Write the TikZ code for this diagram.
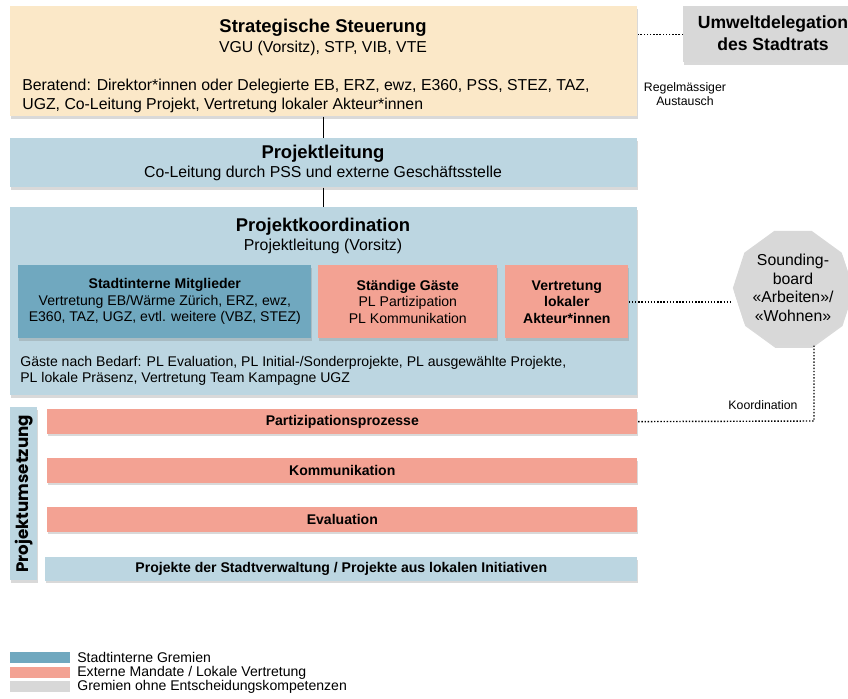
\documentclass[tikz,border=0pt]{standalone}
\usepackage{fontspec}
\setmainfont{Liberation Sans}
\newfontfamily\pufont{Poppins}
\usetikzlibrary{positioning,shapes.geometric,shadows}
\definecolor{cCream}{HTML}{FBE8C8}
\definecolor{cLblue}{HTML}{BCD6E1}
\definecolor{cTeal}{HTML}{70A8BF}
\definecolor{cSalm}{HTML}{F3A293}
\definecolor{cGrey}{HTML}{D8D8D8}

\begin{document}
\begin{tikzpicture}[x=0.02cm,y=-0.02cm,
  box/.style={rectangle,fill=#1,anchor=north west,inner sep=0pt,align=center,
    drop shadow={shadow xshift=0.5pt,shadow yshift=-1.5pt,opacity=0.3}},
  ttl/.style={font=\fontsize{10.5}{12.5}\selectfont\bfseries,inner sep=0pt},
  txt/.style={font=\fontsize{9}{10.8}\selectfont,inner sep=0pt,align=center},
  sml/.style={font=\fontsize{8}{9.4}\selectfont},
  lbl/.style={font=\fontsize{7}{8.4}\selectfont,inner sep=0pt,align=center},
  link/.style={line width=0.8pt},
  dots/.style={densely dotted,line width=0.8pt},
  swatch/.style={fill=#1,anchor=north west,minimum width=1.2cm,minimum height=0.22cm,inner sep=0pt}]
\useasboundingbox (0,0) rectangle (848,699);
% ---------- strategische Steuerung ----------
\node[box=cCream,minimum width=12.54cm,minimum height=2.2cm] (strat) at (10,6) {};
\node[ttl] (stratT) at (323,28) {Strategische Steuerung};
\node[txt] (stratS) at (323,48) {VGU (Vorsitz), STP, VIB, VTE};
\node[txt,anchor=west,align=left] (stratB) at (22,96) {Beratend: Direktor*innen oder Delegierte EB, ERZ, ewz, E360, PSS, STEZ, TAZ,\\UGZ, Co-Leitung Projekt, Vertretung lokaler Akteur*innen};
\node[box=cGrey,minimum width=3.6cm,minimum height=1.12cm] (umw) at (683,6) {};
\node[inner sep=0pt,align=center,font=\fontsize{10}{12.5}\selectfont\bfseries] (umwT) at (773,33) {Umweltdelegation\\des Stadtrats};
\draw[dots] (umw.west) -- (umw.west -| strat.east);
\node[lbl] (aust) at (685,94) {Regelmässiger\\Austausch};
% ---------- Projektleitung ----------
\node[box=cLblue,minimum width=12.54cm,minimum height=0.98cm] (pl) at (10,138) {};
\node[ttl] (plT) at (323,154) {Projektleitung};
\node[txt] (plS) at (323,173) {Co-Leitung durch PSS und externe Geschäftsstelle};
\draw[link] (strat.south) -- (pl.north);
% ---------- Projektkoordination ----------
\node[box=cLblue,minimum width=12.54cm,minimum height=3.76cm] (pk) at (10,207) {};
\node[ttl] (pkT) at (323,227) {Projektkoordination};
\node[txt] (pkS) at (323,246) {Projektleitung (Vorsitz)};
\draw[link] (pl.south) -- (pk.north);
\node[box=cTeal,sml,minimum width=5.86cm,minimum height=1.46cm] (sim) at (18,265)
  {\textbf{Stadtinterne Mitglieder}\\Vertretung EB/Wärme Zürich, ERZ, ewz,\\E360, TAZ, UGZ, evtl. weitere (VBZ, STEZ)};
\node[box=cSalm,sml,minimum width=3.58cm,minimum height=1.46cm] (sg) at (318,265)
  {\textbf{Ständige Gäste}\\PL Partizipation\\PL Kommunikation};
\node[box=cSalm,sml,minimum width=2.46cm,minimum height=1.46cm,font=\fontsize{8}{9.4}\selectfont\bfseries] (vla) at (505,265)
  {Vertretung\\lokaler\\Akteur*innen};
\node[sml,inner sep=0pt,anchor=west,align=left] (gaeste) at (20,371)
  {Gäste nach Bedarf: PL Evaluation, PL Initial-/Sonderprojekte, PL ausgewählte Projekte,\\PL lokale Präsenz, Vertretung Team Kampagne UGZ};
% ---------- Soundingboard ----------
\node[regular polygon,regular polygon sides=10,minimum size=2.2cm,inner sep=0pt,fill=cGrey,align=center,
  font=\fontsize{9}{10.5}\selectfont,
  drop shadow={shadow xshift=0.5pt,shadow yshift=-1.5pt,opacity=0.3}] (sb) at (793,288)
  {Sounding-\\board\\«Arbeiten»/\\«Wohnen»};
\draw[dots] (vla.east) -- (vla.east -| sb.west);
% ---------- Projektumsetzung ----------
\node[box=cLblue,minimum width=0.54cm,minimum height=3.46cm] (pu) at (10,407) {};
\node[rotate=90,inner sep=0pt,font=\pufont\fontsize{9.5}{11}\selectfont\bfseries] (puT) at (pu.center) {Projektumsetzung};
\node[box=cSalm,sml,font=\fontsize{8}{9.4}\selectfont\bfseries,minimum width=11.8cm,minimum height=0.49cm] (part) at (47,409) {Partizipationsprozesse};
\node[box=cSalm,sml,font=\fontsize{8}{9.4}\selectfont\bfseries,minimum width=11.8cm,minimum height=0.49cm] (komm) at (47,458) {Kommunikation};
\node[box=cSalm,sml,font=\fontsize{8}{9.4}\selectfont\bfseries,minimum width=11.8cm,minimum height=0.49cm] (eval) at (47,507) {Evaluation};
\node[box=cLblue,sml,font=\fontsize{8}{9.4}\selectfont\bfseries,minimum width=11.84cm,minimum height=0.47cm] (proj) at (45,557) {Projekte der Stadtverwaltung / Projekte aus lokalen Initiativen};
\coordinate (kc) at (814,421);
\draw[dots] (sb.south -| kc) -- (kc) -- (part.east);
\node[lbl] (koord) at (763,405) {Koordination};
% ---------- Legende ----------
\node[swatch=cTeal] (lg1) at (10,652) {};
\node[swatch=cSalm] (lg2) at (10,667) {};
\node[swatch=cGrey] (lg3) at (10,681) {};
\node[sml,anchor=west,inner sep=0pt] (lt1) at (77,657.5) {Stadtinterne Gremien};
\node[sml,anchor=west,inner sep=0pt] (lt2) at (77,672.5) {Externe Mandate / Lokale Vertretung};
\node[sml,anchor=west,inner sep=0pt] (lt3) at (77,686.5) {Gremien ohne Entscheidungskompetenzen};
\end{tikzpicture}
\end{document}
